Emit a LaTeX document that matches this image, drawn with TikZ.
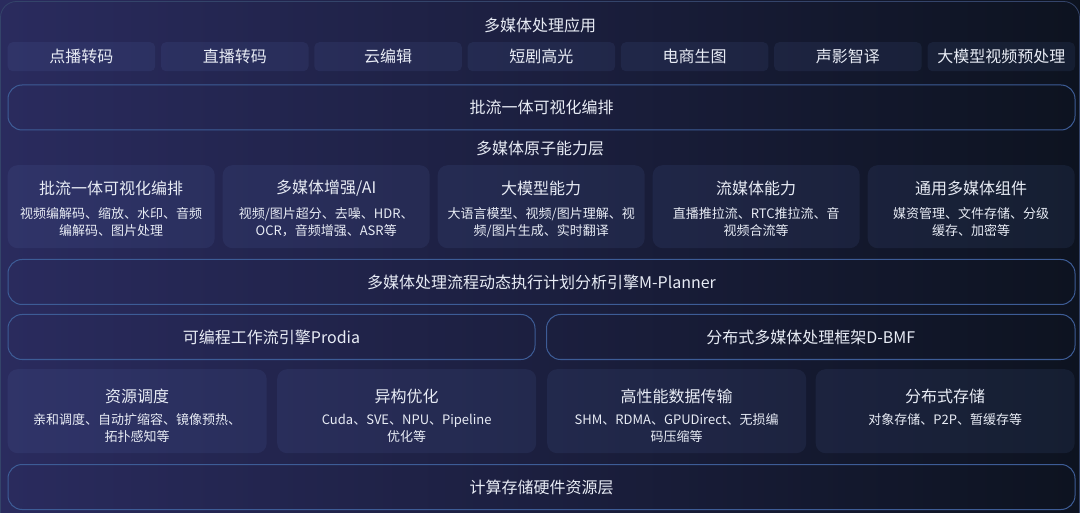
\documentclass[tikz,border=0pt]{standalone}
\usepackage{fontspec}
\setmainfont{Noto Sans CJK SC}
\usepackage{tikz}

\definecolor{bgleft}{HTML}{2A2B5E}
\definecolor{bgmid}{HTML}{141B33}
\definecolor{bgright}{HTML}{0D1320}
\definecolor{framecol}{HTML}{34446A}
\definecolor{barcol}{HTML}{3D5C96}
\definecolor{boxfill}{HTML}{7090E0}
\definecolor{txtcol}{HTML}{E8ECF5}

\begin{document}
\begin{tikzpicture}[x=1pt,y=-1pt,
    every node/.style={text=txtcol, inner sep=0pt},
    heading/.style={font=\fontsize{16}{18}\selectfont},
    tile/.style={fill=boxfill, fill opacity=.09, text opacity=1, rounded corners=5pt,
      anchor=north west, minimum width=147.5pt, minimum height=29pt, font=\fontsize{16}{18}\selectfont},
    card/.style={fill=boxfill, fill opacity=.09, rounded corners=10pt, anchor=north west},
    desc/.style={font=\fontsize{13}{17}\selectfont, align=center},
    bar/.style={draw=barcol, line width=1pt, rounded corners=14pt, anchor=north west,
      minimum height=45pt, font=\fontsize{16}{18}\selectfont}]
  \useasboundingbox (0,0) rectangle (1080,513);
  % background and outer frame
  \shade[left color=bgleft, middle color=bgmid, right color=bgright] (0,0) rectangle (1080,513);
  \draw[framecol, line width=.8pt, rounded corners=16pt] (0.5,1.5) rectangle (1079.5,530);

  % application layer
  \node[heading] (apptitle) at (540,25) {多媒体处理应用};
  \node[tile] (app1) at (7.5,42) {点播转码};
  \node[tile] (app2) at (160.8,42) {直播转码};
  \node[tile] (app3) at (314.1,42) {云编辑};
  \node[tile] (app4) at (467.4,42) {短剧高光};
  \node[tile] (app5) at (620.7,42) {电商生图};
  \node[tile] (app6) at (774,42) {声影智译};
  \node[tile] (app7) at (927.3,42) {大模型视频预处理};

  \node[bar, minimum width=1067pt] (flowbar) at (7.5,84.5) {批流一体可视化编排};

  % atomic capability layer
  \node[heading] (captitle) at (540,148) {多媒体原子能力层};
  \node[card, minimum width=207pt, minimum height=83pt] (cap1) at (7.5,165) {};
  \node[card, minimum width=207pt, minimum height=83pt] (cap2) at (222.5,165) {};
  \node[card, minimum width=207pt, minimum height=83pt] (cap3) at (437.5,165) {};
  \node[card, minimum width=207pt, minimum height=83pt] (cap4) at (652.5,165) {};
  \node[card, minimum width=207pt, minimum height=83pt] (cap5) at (867.5,165) {};
  \node[heading] (cap1t) at ([yshift=-23pt]cap1.north) {批流一体可视化编排};
  \node[desc] (cap1d) at ([yshift=-57.5pt]cap1.north) {视频编解码、缩放、水印、音频\\编解码、图片处理};
  \node[heading] (cap2t) at ([yshift=-23pt]cap2.north) {多媒体增强/AI};
  \node[desc] (cap2d) at ([yshift=-57.5pt]cap2.north) {视频/图片超分、去噪、HDR、\\OCR，音频增强、ASR等};
  \node[heading] (cap3t) at ([yshift=-23pt]cap3.north) {大模型能力};
  \node[desc] (cap3d) at ([yshift=-57.5pt]cap3.north) {大语言模型、视频/图片理解、视\\频/图片生成、实时翻译};
  \node[heading] (cap4t) at ([yshift=-23pt]cap4.north) {流媒体能力};
  \node[desc] (cap4d) at ([yshift=-57.5pt]cap4.north) {直播推拉流、RTC推拉流、音\\视频合流等};
  \node[heading] (cap5t) at ([yshift=-23pt]cap5.north) {通用多媒体组件};
  \node[desc] (cap5d) at ([yshift=-57.5pt]cap5.north) {媒资管理、文件存储、分级\\缓存、加密等};

  \node[bar, minimum width=1067pt] (plannerbar) at (7.5,259) {多媒体处理流程动态执行计划分析引擎M-Planner};
  \node[bar, minimum width=527pt] (prodiabar) at (7.5,314) {可编程工作流引擎Prodia};
  \node[bar, minimum width=528.5pt] (bmfbar) at (546,314) {分布式多媒体处理框架D-BMF};

  % resources
  \node[card, minimum width=259pt, minimum height=84pt] (res1) at (7.5,369) {};
  \node[card, minimum width=259pt, minimum height=84pt] (res2) at (277,369) {};
  \node[card, minimum width=259pt, minimum height=84pt] (res3) at (547,369) {};
  \node[card, minimum width=259pt, minimum height=84pt] (res4) at (815.5,369) {};
  \node[heading] (res1t) at ([yshift=-27pt]res1.north) {资源调度};
  \node[desc] (res1d) at ([yshift=-59pt]res1.north) {亲和调度、自动扩缩容、镜像预热、\\拓扑感知等};
  \node[heading] (res2t) at ([yshift=-27pt]res2.north) {异构优化};
  \node[desc] (res2d) at ([yshift=-59pt]res2.north) {Cuda、SVE、NPU、Pipeline\\优化等};
  \node[heading] (res3t) at ([yshift=-27pt]res3.north) {高性能数据传输};
  \node[desc] (res3d) at ([yshift=-59pt]res3.north) {SHM、RDMA、GPUDirect、无损编\\码压缩等};
  \node[heading] (res4t) at ([yshift=-27pt]res4.north) {分布式存储};
  \node[desc] (res4d) at ([yshift=-51pt]res4.north) {对象存储、P2P、暂缓存等};

  \node[bar, minimum width=1067pt] (hwbar) at (7.5,464) {计算存储硬件资源层};
\end{tikzpicture}
\end{document}
